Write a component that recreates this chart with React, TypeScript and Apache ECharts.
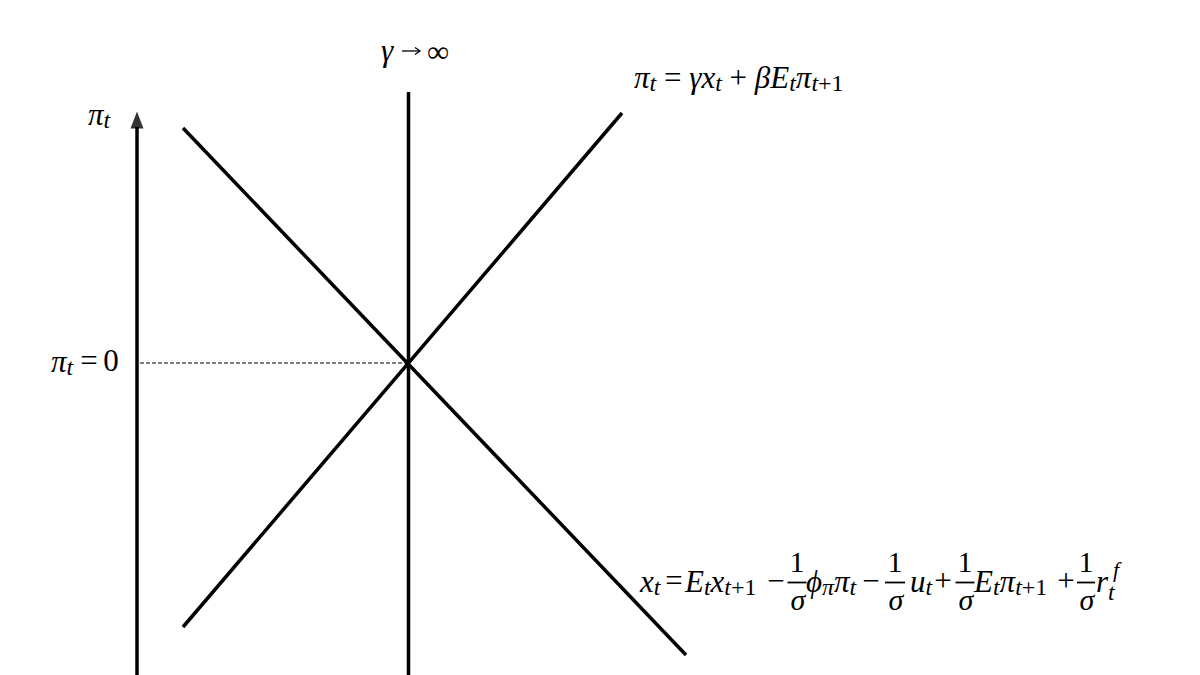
import { useEffect, useRef } from 'react'
import * as echarts from 'echarts'

// diagram units: 1 unit = 10px, origin at the equilibrium point
const piAxis = [[-27.1, -31.2], [-27.1, 23.6]]
const arrowHead = [[-27.1, 24.3]]
const isCurve = [[-22.5, 23.5], [27.8, -29.2]]
const pcCurve = [[-22.5, -26.4], [21.4, 25.0]]
const pcVertical = [[0.05, 27.1], [0.05, -31.2]]
const zeroLine = [[-26.8, 0], [0, 0]]

const FONT = 'Liberation Serif'
const SIZE = 31
const SUB = 24

const rich = {
  i: { fontFamily: FONT, fontStyle: 'italic', fontSize: SIZE, lineHeight: 40, fill: '#000' },
  n: { fontFamily: FONT, fontSize: SIZE, lineHeight: 40, fill: '#000' },
  s: { fontFamily: FONT, fontStyle: 'italic', fontSize: SUB, lineHeight: SUB, padding: [12, 0, 0, 0], fill: '#000' },
  sn: { fontFamily: FONT, fontSize: SUB, lineHeight: SUB, padding: [12, 0, 0, 0], fill: '#000' },
  sl: { fontFamily: FONT, fontStyle: 'italic', fontSize: SUB, lineHeight: SUB, padding: [22, 0, 0, 0], fill: '#000' },
  g: { fontFamily: FONT, fontSize: SIZE, lineHeight: 40, fill: '#000' },
}

const label = (text: string, x: number, y: number) => ({
  type: 'text',
  x,
  y,
  silent: true,
  style: { text, rich, fill: '#000', fontFamily: FONT, fontSize: SIZE, align: 'left', verticalAlign: 'middle' },
})

const plain = (text: string, x: number, y: number, size = SIZE, italic = false, align = 'center') => ({
  type: 'text',
  x,
  y,
  silent: true,
  style: {
    text, fontFamily: FONT, fontSize: size, fontStyle: italic ? 'italic' : 'normal',
    fill: '#000', align, verticalAlign: 'middle',
  },
})

const fraction = ([cx, half]: number[]) => [
  plain('1', cx, 561, 30),
  plain('σ', cx + 1, 599, 30, true),
  {
    type: 'line', silent: true,
    shape: { x1: cx - half, y1: 582.5, x2: cx + half, y2: 582.5 },
    style: { stroke: '#000', lineWidth: 1.8 },
  },
]

const fractions = [[797, 9.5], [895, 10], [965, 9.5], [1086, 9]]

export default function App() {
  const chartRef = useRef<HTMLDivElement>(null)

  useEffect(() => {
    if (!chartRef.current) return
    const chart = echarts.init(chartRef.current, undefined, { renderer: 'svg' })

    const solid = { color: '#000', width: 3.5 }

    chart.setOption({
      animation: false,
      backgroundColor: '#fff',
      grid: { left: 0, right: 0, top: 0, bottom: 0 },
      xAxis: { type: 'value', min: -40.8, max: 79.2, show: false },
      yAxis: { type: 'value', min: -31.2, max: 36.3, show: false },
      series: [
        { type: 'line', data: piAxis, symbol: 'none', lineStyle: solid, silent: true },
        { type: 'line', data: isCurve, symbol: 'none', lineStyle: solid, silent: true },
        { type: 'line', data: pcCurve, symbol: 'none', lineStyle: solid, silent: true },
        { type: 'line', data: pcVertical, symbol: 'none', lineStyle: solid, silent: true },
        {
          type: 'line', data: zeroLine, symbol: 'none', silent: true,
          lineStyle: { color: '#000', width: 1.2, type: [4, 2] },
        },
        {
          type: 'scatter', data: arrowHead, symbol: 'triangle', symbolSize: [13, 17],
          itemStyle: { color: '#000' }, silent: true,
        },
      ],
      graphic: [
        // axis label
        label('{i|π}{s|t}', 88, 114),
        // π_t = 0
        label('{i|π}{s|t}', 51, 361),
        plain('=', 89, 360),
        plain('0', 111, 360),
        // γ → ∞
        plain('γ', 381, 50, SIZE, true, 'left'),
        {
          type: 'line', silent: true,
          shape: { x1: 402, y1: 51, x2: 420, y2: 51 },
          style: { stroke: '#000', lineWidth: 1.3 },
        },
        {
          type: 'polyline', silent: true,
          shape: { points: [[415, 47.5], [420, 51], [415, 54.5]] },
          style: { stroke: '#000', lineWidth: 1.3, fill: 'none' },
        },
        plain('∞', 438, 51, 31),
        // π_t = γx_t + βE_tπ_{t+1}
        label('{i|π}{s|t}{g| =}{i| γx}{s|t}{g| +}{i| βE}{s|t}{i|π}{s|t}{sn|+1}', 634, 77),
        // x_t = E_t x_{t+1} − 1/σ ϕ_π π_t − 1/σ u_t + 1/σ E_t π_{t+1} + 1/σ r_t^f
        label('{i|x}{s|t}', 640, 581),
        plain('=', 674, 580),
        label('{i|E}{s|t}{i|x}{s|t}{sn|+1}', 685, 581),
        plain('−', 776, 580),
        label('{i|ϕ}{s|π}{i|π}{s|t}', 806, 581),
        plain('−', 871, 580),
        label('{i|u}{s|t}', 910, 581),
        plain('+', 943, 580),
        label('{i|E}{s|t}{i|π}{s|t}{sn|+1}', 974, 581),
        plain('+', 1066, 580),
        label('{i|r}{sl|t}', 1096, 581),
        plain('f', 1113, 569, 22, true, 'left'),
        ...fractions.flatMap(fraction),
      ],
    })

    return () => {
      chart.dispose()
    }
  }, [])

  return (
    <div
      ref={chartRef}
      style={{ position: 'fixed', left: 0, top: 0, width: 1200, height: 675 }}
    />
  )
}
